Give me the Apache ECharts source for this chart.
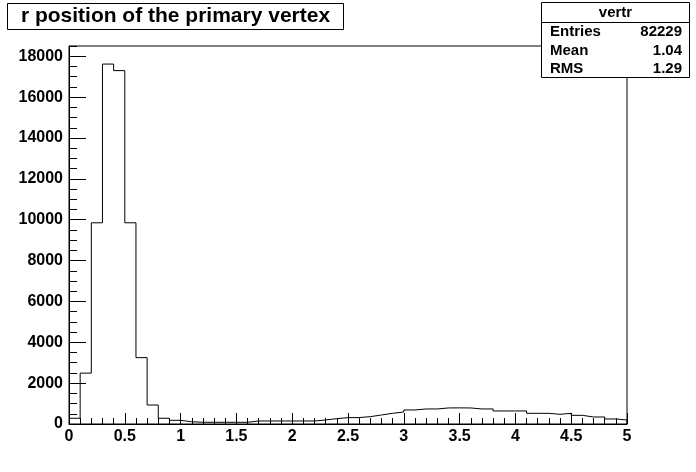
<!DOCTYPE html>
<html>
<head>
<meta charset="utf-8">
<script src="https://cdn.jsdelivr.net/npm/echarts@6/dist/echarts.min.js"></script>
<style>
html,body{margin:0;padding:0;background:#fff;}
#c{width:696px;height:472px;}
</style>
</head>
<body>
<div id="c"></div>
<script>
// Histogram "vertr": r position of the primary vertex, 50 bins of width 0.1 on [0,5]
var binWidth = 0.1;
var binCounts = [
  280, 2490, 9850, 17620, 17300, 9850, 3250, 930, 280, 180,
  110, 85, 83, 83, 83, 83, 147, 147, 147, 147,
  147, 147, 196, 262, 311, 315, 360, 441, 523, 589,
  687, 736, 736, 785, 790, 785, 736, 736, 638, 638,
  638, 523, 523, 474, 523, 425, 343, 343, 245, 196
];
var xTickLabels = ['0', '0.5', '1', '1.5', '2', '2.5', '3', '3.5', '4', '4.5', '5'];
var titleText = 'r position of the primary vertex';
var statsName = 'vertr';
var statsLabels = ['Entries', 'Mean', 'RMS'];
var statsValues = ['82229', '1.04', '1.29'];

var yMax = 18505;
var FONT = '"Liberation Sans", Arial, Helvetica, sans-serif';

// step outline points: left edge of each bin with its content, then closing edge
var stepData = [];
for (var i = 0; i < binCounts.length; i++) {
  stepData.push([Math.round(i * binWidth * 10) / 10, binCounts[i]]);
}
var lastEdge = Math.round(binCounts.length * binWidth * 10) / 10;
stepData.push([lastEdge, binCounts[binCounts.length - 1]]);
stepData.push([lastEdge, 0]);

var chart = echarts.init(document.getElementById('c'), null, {renderer: 'canvas'});

var statsLeft = 541.5, statsRight = 689.5;
var graphics = [
  {type: 'rect', shape: {x: 7.5, y: 3.5, width: 336, height: 26},
   style: {fill: '#fff', stroke: '#000', lineWidth: 1}, z: 10},
  {type: 'text', x: 175.5, y: 16.5,
   style: {text: titleText, font: 'bold 21px ' + FONT, fill: '#000', align: 'center', verticalAlign: 'middle'}, z: 11},
  {type: 'rect', shape: {x: statsLeft, y: 2.5, width: statsRight - statsLeft, height: 75},
   style: {fill: '#fff', stroke: '#000', lineWidth: 1}, z: 10},
  {type: 'line', shape: {x1: statsLeft, y1: 22.5, x2: statsRight, y2: 22.5},
   style: {stroke: '#000', lineWidth: 1}, z: 11},
  {type: 'text', x: (statsLeft + statsRight) / 2, y: 13,
   style: {text: statsName, font: 'bold 15px ' + FONT, fill: '#000', align: 'center', verticalAlign: 'middle'}, z: 11}
];
var rowY = [32, 50.5, 69];
for (var k = 0; k < statsLabels.length; k++) {
  graphics.push({type: 'text', x: 550, y: rowY[k],
    style: {text: statsLabels[k], font: 'bold 15px ' + FONT, fill: '#000', align: 'left', verticalAlign: 'middle'}, z: 11});
  graphics.push({type: 'text', x: 682, y: rowY[k],
    style: {text: statsValues[k], font: 'bold 15px ' + FONT, fill: '#000', align: 'right', verticalAlign: 'middle'}, z: 11});
}

var option = {
  backgroundColor: '#fff',
  animation: false,
  grid: {left: 69, right: 69, top: 46, bottom: 48, show: true, borderColor: '#000', borderWidth: 1, backgroundColor: 'transparent'},
  xAxis: {
    type: 'value', min: 0, max: 5, interval: 0.5,
    axisLine: {show: true, lineStyle: {color: '#000', width: 1}},
    axisTick: {show: true, inside: true, length: 11, lineStyle: {color: '#000', width: 1}},
    minorTick: {show: true, splitNumber: 5, length: 6, lineStyle: {color: '#000', width: 1}},
    splitLine: {show: false},
    axisLabel: {
      margin: 5, color: '#000', fontFamily: FONT, fontWeight: 'bold', fontSize: 16,
      formatter: function (v) { var idx = Math.round(v / 0.5); return xTickLabels[idx] !== undefined ? xTickLabels[idx] : ''; }
    }
  },
  yAxis: [
    {
      type: 'value', min: 0, max: yMax, interval: 2000, position: 'left',
      axisLine: {show: true, lineStyle: {color: '#000', width: 1}},
      axisTick: {show: true, inside: true, length: 17, lineStyle: {color: '#000', width: 1}},
      splitLine: {show: false},
      axisLabel: {
        margin: 6, color: '#000', fontFamily: FONT, fontWeight: 'bold', fontSize: 16,
        showMaxLabel: false,
        formatter: function (v) { return v % 2000 === 0 ? String(v) : ''; }
      }
    },
    {
      type: 'value', min: 0, max: yMax, interval: 500, position: 'left', offset: 0,
      axisLine: {show: false},
      axisTick: {show: true, inside: true, length: 8, lineStyle: {color: '#000', width: 1}},
      splitLine: {show: false},
      axisLabel: {show: false}
    }
  ],
  series: [{
    type: 'line', step: 'end', xAxisIndex: 0, yAxisIndex: 0,
    data: stepData, showSymbol: false, symbol: 'none',
    lineStyle: {color: '#000', width: 1}, z: 5, silent: true
  }],
  graphic: graphics
};
chart.setOption(option);
</script>
</body>
</html>
